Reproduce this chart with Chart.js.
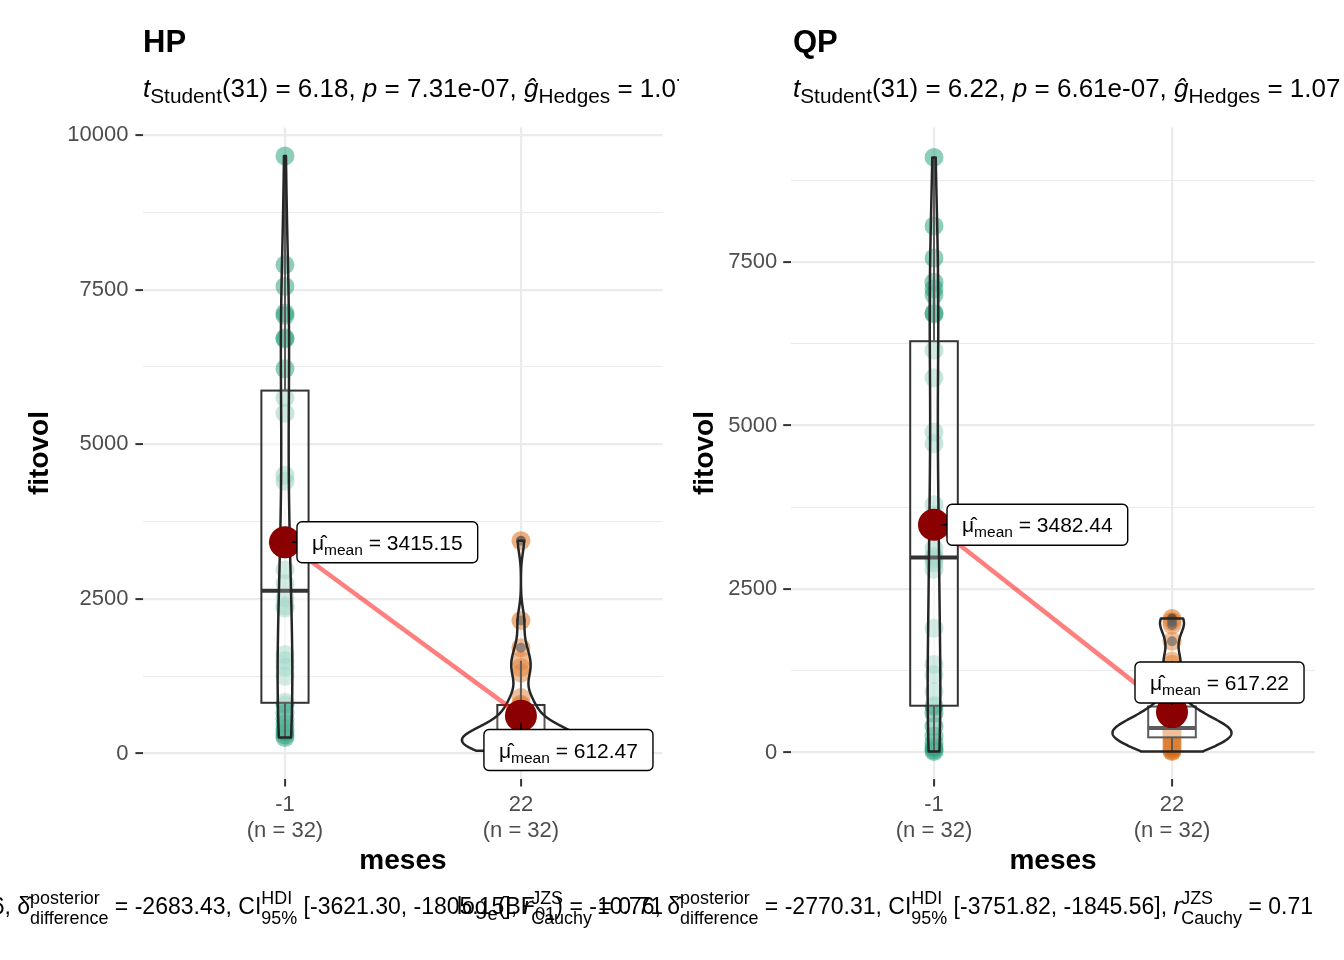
<!DOCTYPE html>
<html><head><meta charset="utf-8">
<script src="https://cdn.jsdelivr.net/npm/chart.js@4/dist/chart.umd.min.js"></script>
<style>
html,body{margin:0;padding:0;background:#fff;}
body{width:1344px;height:960px;overflow:hidden;position:relative;font-family:"Liberation Sans",Arial,sans-serif;color:#000;}
canvas{position:absolute;top:0;}
.title{position:absolute;font-weight:bold;font-size:31px;line-height:36px;white-space:nowrap;}
.clip{position:absolute;top:0;height:130px;overflow:hidden;}
.sub{position:absolute;font-size:26px;line-height:34px;white-space:nowrap;}
.cap{position:absolute;font-size:23px;line-height:40px;white-space:nowrap;}
.s{font-size:0.8em;position:relative;top:0.3em;}
.st{display:inline-block;font-size:0.78em;line-height:1.12;vertical-align:-0.55em;text-align:left;}
.st span{display:block;}
</style></head>
<body>
<canvas id="c1" width="672" height="960" style="left:0"></canvas>
<canvas id="c2" width="672" height="960" style="left:672px"></canvas>

<div class="title" style="left:143px;top:24px">HP</div>
<div class="clip" style="left:0;width:679px"><div class="sub" style="left:143px;top:71px"><i>t</i><span class="s">Student</span>(31) = 6.18, <i>p</i> = 7.31e-07, <i>g&#770;</i><span class="s">Hedges</span> = 1.07</div></div>
<div class="title" style="left:793px;top:24px">QP</div>
<div class="sub" style="left:793px;top:71px"><i>t</i><span class="s">Student</span>(31) = 6.22, <i>p</i> = 6.61e-07, <i>g&#770;</i><span class="s">Hedges</span> = 1.07</div>

<div class="cap" style="right:681px;top:886px">log<span class="s">e</span>(BF<span class="s">01</span>) = -10.66, &delta;&#770;<span class="st"><span>posterior</span><span>difference</span></span> = -2683.43, CI<span class="st"><span>HDI</span><span>95%</span></span> [-3621.30, -1805.15], <i>r</i><span class="st"><span>JZS</span><span>Cauchy</span></span> = 0.71</div>
<div class="cap" style="right:31px;top:886px">log<span class="s">e</span>(BF<span class="s">01</span>) = -10.76, &delta;&#770;<span class="st"><span>posterior</span><span>difference</span></span> = -2770.31, CI<span class="st"><span>HDI</span><span>95%</span></span> [-3751.82, -1845.56], <i>r</i><span class="st"><span>JZS</span><span>Cauchy</span></span> = 0.71</div>

<script>
// ---------------- data ----------------
const categories = ['-1', '22'];
const groupSizes = ['(n = 32)', '(n = 32)'];
const hpBefore = [258, 300, 350, 400, 480, 560, 650, 790, 830, 1250, 1400, 1500, 1600, 2350, 2390, 2516,
                  2750, 2970, 3300, 3500, 4400, 4500, 5500, 5750, 6220, 6700, 6720, 7080, 7120, 7550, 7900, 9660];
const hpAfter = [44, 80, 100, 120, 140, 150, 160, 170, 180, 190, 200, 210, 220, 230, 240, 260,
                 280, 300, 350, 400, 450, 550, 600, 780, 800, 905, 1300, 1390, 1500, 1710, 2150, 3440];
const qpBefore = [15, 40, 80, 150, 250, 400, 600, 700, 720, 930, 1190, 1345, 1900, 2800, 2900, 2960,
                  3000, 3120, 3633, 3790, 4720, 4900, 5730, 6150, 6705, 6720, 7000, 7090, 7190, 7560, 8050, 9100];
const qpAfter = [15, 30, 60, 100, 130, 160, 190, 205, 240, 260, 290, 310, 330, 345, 360, 370,
                 380, 400, 440, 480, 530, 580, 640, 690, 740, 1026, 1350, 1400, 1700, 1950, 2000, 2050];
const hpMeans = [3415.15, 612.47];
const qpMeans = [3482.44, 617.22];
const hpMajorTicks = [0, 2500, 5000, 7500, 10000];
const hpMinorTicks = [1250, 3750, 6250, 8750];
const qpMajorTicks = [0, 2500, 5000, 7500];
const qpMinorTicks = [1250, 3750, 6250, 8750];

// ---------------- styling ----------------
const FAM = "'Liberation Sans', Arial, sans-serif";
const pointColors = ['rgba(27,158,119,0.5)', 'rgba(217,95,2,0.5)'];

function q7(s, p) { const h = (s.length - 1) * p, lo = Math.floor(h), hi = Math.ceil(h); return s[lo] + (h - lo) * (s[hi] - s[lo]); }
function boxStats(vals) {
  const s = [...vals].sort((a, b) => a - b);
  const q1 = q7(s, 0.25), med = q7(s, 0.5), q3 = q7(s, 0.75), iqr = q3 - q1;
  const lf = q1 - 1.5 * iqr, hf = q3 + 1.5 * iqr;
  const inside = s.filter(v => v >= lf && v <= hf);
  return { q1, med, q3, lo: inside[0], hi: inside[inside.length - 1], out: s.filter(v => v < lf || v > hf) };
}
function violinProfile(vals) {
  const s = [...vals].sort((a, b) => a - b), n = s.length;
  const m = s.reduce((a, b) => a + b, 0) / n;
  const sd = Math.sqrt(s.reduce((a, b) => a + (b - m) ** 2, 0) / (n - 1));
  const iqr = q7(s, 0.75) - q7(s, 0.25);
  let lo = Math.min(sd, iqr / 1.34); if (!(lo > 0)) lo = sd;
  const bw = 0.9 * lo * Math.pow(n, -0.2);
  const out = [], N = 512;
  for (let i = 0; i < N; i++) {
    const yv = s[0] + (s[n - 1] - s[0]) * i / (N - 1);
    let d = 0; for (const v of s) { const z = (yv - v) / bw; d += Math.exp(-0.5 * z * z); }
    out.push([yv, d / (n * bw * Math.sqrt(2 * Math.PI))]);
  }
  return out;
}
function drawLabel(ctx, px, py, value, off) {
  const fMain = '21px ' + FAM, fSub = '15.5px ' + FAM;
  ctx.font = fMain; const wMu = ctx.measureText('\u03bc').width;
  const rest = ' = ' + value.toFixed(2); const wRest = ctx.measureText(rest).width;
  ctx.font = fSub; const wSub = ctx.measureText('mean').width;
  const pad = 15, h = 41, w = wMu + wSub + wRest + 2 * pad;
  const bx = px + off[0], by = py + off[1] - h / 2;
  const nx = Math.max(bx, Math.min(px, bx + w)), ny = Math.max(by, Math.min(py, by + h));
  const dx = nx - px, dy = ny - py, L = Math.hypot(dx, dy);
  if (L > 8) { ctx.strokeStyle = '#000'; ctx.lineWidth = 1.5; ctx.beginPath(); ctx.moveTo(px + dx / L * 7, py + dy / L * 7); ctx.lineTo(nx, ny); ctx.stroke(); }
  const r = 5;
  ctx.beginPath();
  ctx.moveTo(bx + r, by); ctx.lineTo(bx + w - r, by); ctx.arcTo(bx + w, by, bx + w, by + r, r);
  ctx.lineTo(bx + w, by + h - r); ctx.arcTo(bx + w, by + h, bx + w - r, by + h, r);
  ctx.lineTo(bx + r, by + h); ctx.arcTo(bx, by + h, bx, by + h - r, r);
  ctx.lineTo(bx, by + r); ctx.arcTo(bx, by, bx + r, by, r); ctx.closePath();
  ctx.fillStyle = '#fff'; ctx.fill(); ctx.strokeStyle = '#000'; ctx.lineWidth = 1.4; ctx.stroke();
  const base = by + h / 2 + 7.5;
  ctx.fillStyle = '#000'; ctx.textAlign = 'left'; ctx.textBaseline = 'alphabetic';
  ctx.font = fMain; ctx.fillText('\u03bc\u0302', bx + pad, base);
  ctx.font = fSub; ctx.fillText('mean', bx + pad + wMu, base + 5);
  ctx.font = fMain; ctx.fillText(rest, bx + pad + wMu + wSub, base);
}
function makeOverlay(cfg) {
  return {
    id: 'overlay',
    afterDatasetsDraw(chart) {
      const { ctx } = chart; const x = chart.scales.x, y = chart.scales.y, ca = chart.chartArea;
      ctx.save();
      ctx.beginPath(); ctx.rect(ca.left, ca.top, ca.right - ca.left, ca.bottom - ca.top); ctx.clip();
      const profiles = cfg.groups.map(violinProfile);
      let maxD = 0; profiles.forEach(p => p.forEach(q => { if (q[1] > maxD) maxD = q[1]; }));
      cfg.groups.forEach((g, i) => {
        const cx = i + 1, b = boxStats(g);
        const xl = x.getPixelForValue(cx - 0.1), xr = x.getPixelForValue(cx + 0.1), xc = x.getPixelForValue(cx);
        ctx.strokeStyle = '#333'; ctx.lineWidth = 2;
        ctx.beginPath();
        ctx.moveTo(xc, y.getPixelForValue(b.q3)); ctx.lineTo(xc, y.getPixelForValue(b.hi));
        ctx.moveTo(xc, y.getPixelForValue(b.q1)); ctx.lineTo(xc, y.getPixelForValue(b.lo));
        ctx.stroke();
        const yt = y.getPixelForValue(b.q3), yb = y.getPixelForValue(b.q1);
        ctx.fillStyle = 'rgba(255,255,255,0.5)'; ctx.fillRect(xl, yt, xr - xl, yb - yt);
        ctx.strokeRect(xl, yt, xr - xl, yb - yt);
        ctx.lineWidth = 4; ctx.beginPath(); const ym = y.getPixelForValue(b.med); ctx.moveTo(xl, ym); ctx.lineTo(xr, ym); ctx.stroke();
        ctx.fillStyle = 'rgba(51,51,51,0.6)';
        b.out.forEach(v => { ctx.beginPath(); ctx.arc(xc, y.getPixelForValue(v), 5, 0, 2 * Math.PI); ctx.fill(); });
      });
      profiles.forEach((p, i) => {
        const cx = i + 1; ctx.beginPath();
        p.forEach((q, k) => { const px = x.getPixelForValue(cx + q[1] / maxD * 0.25), py = y.getPixelForValue(q[0]); if (k) ctx.lineTo(px, py); else ctx.moveTo(px, py); });
        for (let k = p.length - 1; k >= 0; k--) { const q = p[k]; ctx.lineTo(x.getPixelForValue(cx - q[1] / maxD * 0.25), y.getPixelForValue(q[0])); }
        ctx.closePath(); ctx.fillStyle = 'rgba(255,255,255,0.2)'; ctx.fill();
        ctx.strokeStyle = '#262626'; ctx.lineWidth = 2.5; ctx.lineJoin = 'round'; ctx.stroke();
      });
      ctx.strokeStyle = 'rgba(255,0,0,0.5)'; ctx.lineWidth = 4.5; ctx.beginPath();
      cfg.means.forEach((m, i) => { const px = x.getPixelForValue(i + 1), py = y.getPixelForValue(m); if (i) ctx.lineTo(px, py); else ctx.moveTo(px, py); });
      ctx.stroke();
      ctx.fillStyle = '#8B0000';
      cfg.means.forEach((m, i) => { ctx.beginPath(); ctx.arc(x.getPixelForValue(i + 1), y.getPixelForValue(m), 16, 0, 2 * Math.PI); ctx.fill(); });
      cfg.means.forEach((m, i) => drawLabel(ctx, x.getPixelForValue(i + 1), y.getPixelForValue(m), m, cfg.labelOffsets[i]));
      ctx.restore();
    }
  };
}
function makeChart(id, cfg) {
  const isMajor = v => cfg.major.includes(v);
  return new Chart(document.getElementById(id), {
    type: 'scatter',
    data: { datasets: cfg.groups.map((g, i) => ({ data: g.map(v => ({ x: i + 1, y: v })), backgroundColor: pointColors[i], borderWidth: 0, pointRadius: 9.5, pointHoverRadius: 9.5 })) },
    options: {
      responsive: false, animation: false, devicePixelRatio: 1,
      layout: { padding: { left: 0, right: cfg.padRight, top: 127.5, bottom: 81.5 } },
      plugins: { legend: { display: false }, tooltip: { enabled: false } },
      scales: {
        x: {
          type: 'linear', min: 0.4, max: 2.6,
          afterBuildTicks: a => { a.ticks = [{ value: 1 }, { value: 2 }]; },
          afterFit: s => { s.height = 100; },
          ticks: { callback: v => [categories[v - 1], groupSizes[v - 1]], color: '#4D4D4D', font: { family: FAM, size: 22, lineHeight: 1.15 }, padding: 6, maxRotation: 0, autoSkip: false },
          grid: { color: '#EBEBEB', lineWidth: 2.2, tickColor: '#333333', tickLength: 8, tickWidth: 2 },
          border: { display: false },
          title: { display: true, text: 'meses', color: '#000', font: { family: FAM, size: 28, weight: 'bold', lineHeight: 1.2 }, padding: { top: 0, bottom: 0 } }
        },
        y: {
          type: 'linear', min: cfg.yMin, max: cfg.yMax,
          afterBuildTicks: a => { a.ticks = [...cfg.major, ...cfg.minor].sort((p, q) => p - q).map(v => ({ value: v })); },
          afterFit: s => { s.width = cfg.axisWidth; },
          ticks: { callback: v => isMajor(v) ? String(v) : '', color: '#4D4D4D', font: { family: FAM, size: 22 }, padding: cfg.tickPad, autoSkip: false },
          grid: {
            color: '#EBEBEB',
            lineWidth: c => (c.tick && isMajor(c.tick.value)) ? 2.2 : 1.1,
            tickColor: c => (c.tick && isMajor(c.tick.value)) ? '#333333' : 'rgba(0,0,0,0)',
            tickLength: 8, tickWidth: 2
          },
          border: { display: false },
          title: { display: true, text: 'fitovol', color: '#000', font: { family: FAM, size: 28, weight: 'bold', lineHeight: 1.2 }, padding: { top: cfg.titlePad, bottom: 0 } }
        }
      }
    },
    plugins: [makeOverlay(cfg)]
  });
}
makeChart('c1', { groups: [hpBefore, hpAfter], means: hpMeans, major: hpMajorTicks, minor: hpMinorTicks,
  yMin: -404, yMax: 10121, axisWidth: 143.4, padRight: 9.4, tickPad: 7, titlePad: 23,
  labelOffsets: [[12, 0], [-37, 34.4]] });
makeChart('c2', { groups: [qpBefore, qpAfter], means: qpMeans, major: qpMajorTicks, minor: qpMinorTicks,
  yMin: -398, yMax: 9557, axisWidth: 119.2, padRight: 29.2, tickPad: 6, titlePad: 16,
  labelOffsets: [[13, 0], [-37, -29.6]] });
</script>
</body></html>
